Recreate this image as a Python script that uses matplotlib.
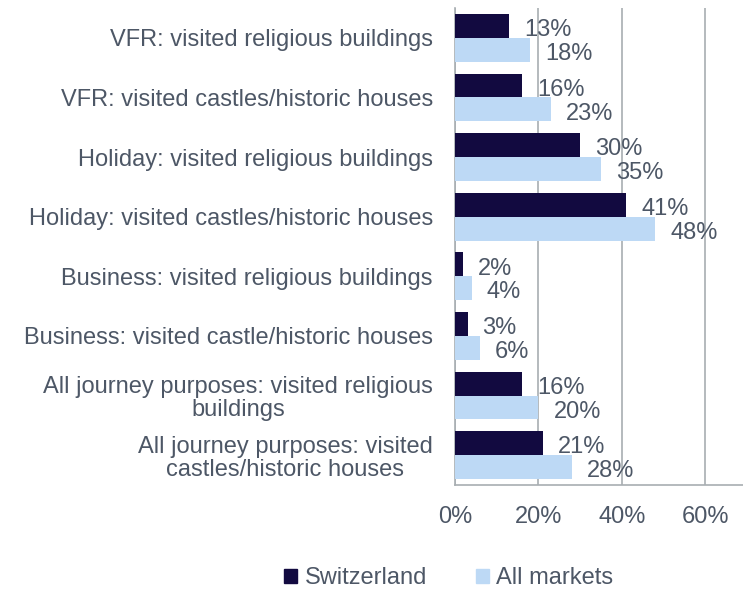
import numpy as np
import matplotlib
matplotlib.use("Agg")
import matplotlib.pyplot as plt
from matplotlib.patches import Patch

plt.rcParams['font.family'] = ['Liberation Sans', 'DejaVu Sans']

categories = [
    "VFR: visited religious buildings",
    "VFR: visited castles/historic houses",
    "Holiday: visited religious buildings",
    "Holiday: visited castles/historic houses",
    "Business: visited religious buildings",
    "Business: visited castle/historic houses",
    "All journey purposes: visited religious\nbuildings",
    "All journey purposes: visited\ncastles/historic houses",
]
switzerland = [0.13, 0.16, 0.30, 0.41, 0.02, 0.03, 0.16, 0.21]
all_markets = [0.18, 0.23, 0.35, 0.48, 0.04, 0.06, 0.20, 0.28]
series_names = ["Switzerland", "All markets"]

dark = "#120A40"
light = "#BDD9F5"
text_col = "#4D5766"
grid_col = "#A8AEB2"
fs = 17

fig = plt.figure(figsize=(7.43, 5.9), dpi=100)
ax = fig.add_axes([455 / 743, 1 - 485 / 590, 288 / 743, 477 / 590])

y = np.arange(len(categories))
h = 0.40
ax.barh(y - h / 2, switzerland, height=h, color=dark, zorder=3)
ax.barh(y + h / 2, all_markets, height=h, color=light, zorder=3)

# value labels, nudged right of the bar end and a touch below centre
for i, v in enumerate(switzerland):
    ax.text(v + 0.036, y[i] - h / 2 + 0.07, f"{v * 100:.0f}%", va="center", ha="left",
            fontsize=fs, color=text_col, zorder=4)
for i, v in enumerate(all_markets):
    ax.text(v + 0.036, y[i] + h / 2 + 0.07, f"{v * 100:.0f}%", va="center", ha="left",
            fontsize=fs, color=text_col, zorder=4)

ax.set_ylim(len(categories) - 0.5, -0.5)
ax.set_xlim(0, 0.69)
ax.set_yticks(y)
ax.set_yticklabels(categories, fontsize=fs, color=text_col, multialignment="center",
                   linespacing=1.05)
ax.set_xticks([0, 0.2, 0.4, 0.6])
ax.set_xticklabels(["0%", "20%", "40%", "60%"], fontsize=fs, color=text_col)
ax.tick_params(length=0, pad=15, axis="x")
ax.tick_params(length=0, pad=16, axis="y")

ax.grid(axis="x", color=grid_col, linewidth=1.2, zorder=0)
for s in ["top", "right"]:
    ax.spines[s].set_visible(False)
ax.spines["left"].set_color(grid_col)
ax.spines["bottom"].set_color(grid_col)
ax.spines["left"].set_linewidth(1.2)
ax.spines["bottom"].set_linewidth(1.2)

handles = [Patch(color=dark), Patch(color=light)]
fig.legend(handles, series_names, loc="center", bbox_to_anchor=(449 / 743, 1 - 578 / 590),
           ncol=2, frameon=False, fontsize=fs, labelcolor=text_col,
           handlelength=0.55, handleheight=0.55, handletextpad=0.3, columnspacing=2.1)

fig.savefig("out.png", dpi=100)
